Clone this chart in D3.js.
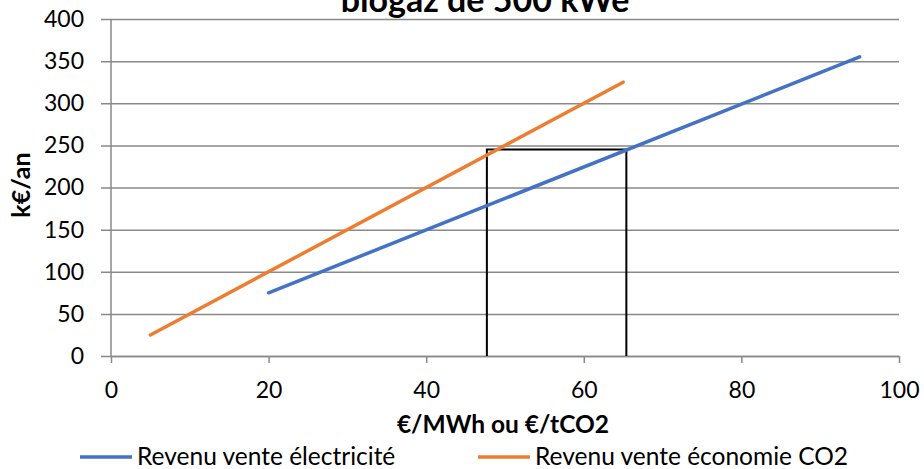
<!DOCTYPE html>
<html>
<head>
<meta charset="utf-8">
<script src="https://cdn.jsdelivr.net/npm/d3@7"></script>
<style>
  body { margin: 0; background: #fff; }
  svg { font-family: Lato, "Open Sans", sans-serif; }
</style>
</head>
<body>
<div id="chart"></div>
<script>
// values
var elecPrice = [20, 95];
var elecRevenue = [75, 355];
var co2Price = [5, 65];
var co2Revenue = [25, 325];
var boxX = [47.7, 47.7, 65.4, 65.4];
var boxY = [0, 245, 245, 0];
var xTicks = [0, 20, 40, 60, 80, 100];
var yTicks = [0, 50, 100, 150, 200, 250, 300, 350, 400];
var seriesNames = ["Revenu vente électricité", "Revenu vente économie CO2"];
var colors = ["#4472C4", "#ED7D31"];

drawChart(924, 469);

function drawChart(width, height) {
  var svg = d3.select("#chart").append("svg")
      .attr("width", width)
      .attr("height", height);

  var margin = {left: 111, right: 25, top: 19, bottom: 113};

  var x = d3.scaleLinear().domain([0, 100])
      .range([margin.left, width - margin.right]);
  var y = d3.scaleLinear().domain([0, 400])
      .range([height - margin.bottom, margin.top]);

  // horizontal gridlines + y axis
  var yAxis = svg.append("g")
      .attr("transform", "translate(" + margin.left + ",0)")
      .call(d3.axisLeft(y).tickValues(yTicks)
        .tickSize(-(width - margin.left - margin.right))
        .tickPadding(27));
  yAxis.select(".domain").remove();
  yAxis.selectAll(".tick line")
      .attr("x1", -10)
      .attr("stroke", "#898989")
      .attr("stroke-width", 1.5);
  yAxis.selectAll(".tick text")
      .attr("font-size", 23)
      .attr("fill", "#000")
      .attr("font-family", "Lato, sans-serif");

  // left axis line
  svg.append("line")
      .attr("x1", x(0)).attr("x2", x(0))
      .attr("y1", y(0)).attr("y2", y(400))
      .attr("stroke", "#898989").attr("stroke-width", 1.5);

  // x axis
  var xAxis = svg.append("g")
      .attr("transform", "translate(0," + y(0) + ")")
      .call(d3.axisBottom(x).tickValues(xTicks).tickSize(7).tickPadding(19).tickSizeOuter(0));
  xAxis.select(".domain").attr("stroke", "#898989").attr("stroke-width", 1.5);
  xAxis.selectAll(".tick line").attr("stroke", "#898989").attr("stroke-width", 1.5);
  xAxis.selectAll(".tick text")
      .attr("font-size", 23)
      .attr("fill", "#000")
      .attr("font-family", "Lato, sans-serif");

  var line = d3.line()
      .x(function(d) { return x(d[0]); })
      .y(function(d) { return y(d[1]); });

  // black box
  svg.append("path")
      .datum(d3.zip(boxX, boxY))
      .attr("d", line)
      .attr("fill", "none")
      .attr("stroke", "#000")
      .attr("stroke-width", 2);

  svg.append("path")
      .datum(d3.zip(elecPrice, elecRevenue))
      .attr("d", line)
      .attr("fill", "none")
      .attr("stroke", colors[0])
      .attr("stroke-width", 3.5)
      .attr("stroke-linecap", "round");

  svg.append("path")
      .datum(d3.zip(co2Price, co2Revenue))
      .attr("d", line)
      .attr("fill", "none")
      .attr("stroke", colors[1])
      .attr("stroke-width", 3.5)
      .attr("stroke-linecap", "round");

  // title (first line falls outside the picture)
  svg.append("text")
      .attr("x", 485).attr("y", 12)
      .attr("text-anchor", "middle")
      .attr("font-size", 34)
      .attr("font-weight", "bold")
      .text("biogaz de 500 kWe");

  svg.append("text")
      .attr("x", 503).attr("y", 433)
      .attr("text-anchor", "middle")
      .attr("font-size", 24.5)
      .attr("font-weight", "bold")
      .text("€/MWh ou €/tCO2");

  svg.append("text")
      .attr("transform", "translate(30,185) rotate(-90)")
      .attr("text-anchor", "middle")
      .attr("font-size", 25)
      .attr("font-weight", "bold")
      .text("k€/an");

  var legend = svg.append("g")
      .selectAll("g")
      .data(seriesNames)
      .enter().append("g")
      .attr("transform", function(d, i) { return "translate(" + (i == 0 ? 80 : 478) + ",457)"; });

  legend.append("line")
      .attr("x1", 0).attr("x2", 52)
      .attr("stroke", function(d, i) { return colors[i]; })
      .attr("stroke-width", 3.5);

  legend.append("text")
      .attr("x", 57)
      .attr("y", 8)
      .attr("font-size", 24.5)
      .text(function(d) { return d; });
}
</script>
</body>
</html>
